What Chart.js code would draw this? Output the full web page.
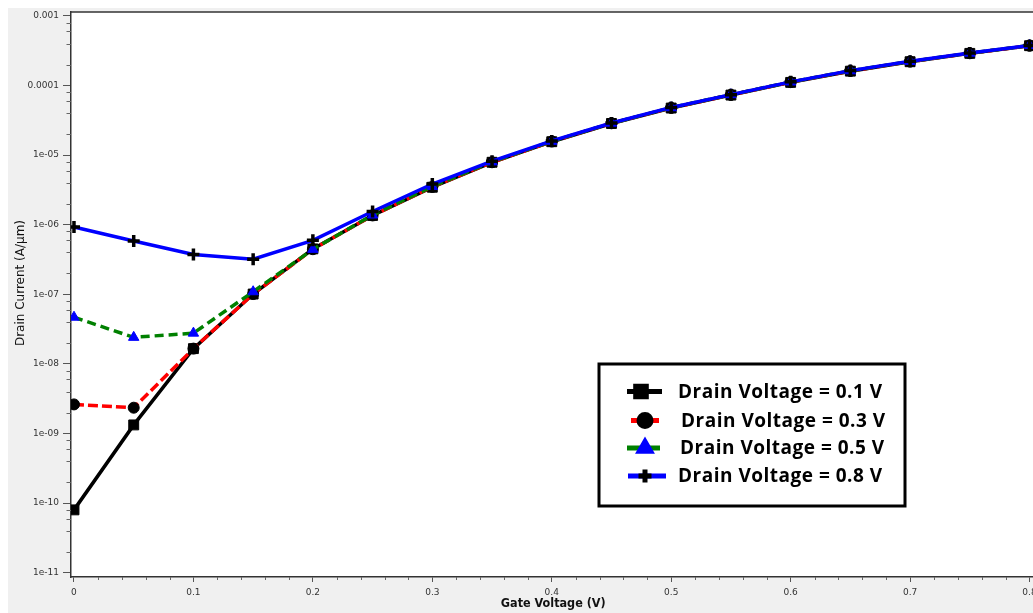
<!DOCTYPE html>
<html>
<head>
<meta charset="utf-8">
<title>Drain Current vs Gate Voltage</title>
<script src="https://cdn.jsdelivr.net/npm/chart.js"></script>
<style>
    html, body { margin: 0; padding: 0; background: #fff; overflow: hidden; }
    #wrap { width: 1033px; height: 613px; overflow: hidden; position: relative; }
    #ivChart { position: absolute; left: 0; top: 0; }
</style>
</head>
<body>
<div id="wrap"><canvas id="ivChart" width="1045" height="613"></canvas></div>
<script>
const gateVoltage = [0, 0.05, 0.1, 0.15, 0.2, 0.25, 0.3, 0.35, 0.4, 0.45, 0.5, 0.55, 0.6, 0.65, 0.7, 0.75, 0.8];

const vd01 = [8.0e-11, 1.33e-9, 1.66e-8, 1.01e-7, 4.5e-7, 1.36e-6, 3.46e-6, 7.9e-6, 1.56e-5, 2.85e-5, 4.75e-5, 7.3e-5, 1.11e-4, 1.61e-4, 2.2e-4, 2.9e-4, 3.74e-4];
const vd03 = [2.62e-9, 2.35e-9, 1.66e-8, 1.01e-7, 4.45e-7, 1.36e-6, 3.5e-6, 7.9e-6, 1.57e-5, 2.87e-5, 4.78e-5, 7.35e-5, 1.12e-4, 1.62e-4, 2.21e-4, 2.91e-4, 3.75e-4];
const vd05 = [4.69e-8, 2.41e-8, 2.77e-8, 1.09e-7, 4.43e-7, 1.38e-6, 3.55e-6, 8.0e-6, 1.58e-5, 2.88e-5, 4.8e-5, 7.4e-5, 1.125e-4, 1.63e-4, 2.22e-4, 2.92e-4, 3.76e-4];
const vd08 = [9.27e-7, 5.85e-7, 3.73e-7, 3.19e-7, 5.97e-7, 1.55e-6, 3.85e-6, 8.2e-6, 1.6e-5, 2.9e-5, 4.85e-5, 7.4e-5, 1.13e-4, 1.64e-4, 2.23e-4, 2.93e-4, 3.77e-4];

const seriesLabels = ["Drain Voltage = 0.1 V", "Drain Voltage = 0.3 V", "Drain Voltage = 0.5 V", "Drain Voltage = 0.8 V"];

const xTicks = [0, 0.1, 0.2, 0.3, 0.4, 0.5, 0.6, 0.7, 0.8];
const xTickLabels = ["0", "0.1", "0.2", "0.3", "0.4", "0.5", "0.6", "0.7", "0.8"];
const yTicks = [1e-11, 1e-10, 1e-9, 1e-8, 1e-7, 1e-6, 1e-5, 1e-4, 1e-3];
const yTickLabels = ["1e-11", "1e-10", "1e-09", "1e-08", "1e-07", "1e-06", "1e-05", "0.0001", "0.001"];

const xTitle = "Gate Voltage (V)";
const yTitle = "Drain Current (A/\u03bcm)";

function points(ys) {
    return gateVoltage.map((x, i) => ({ x: x, y: ys[i] }));
}

// grey panel, white plot, frame, minor ticks, y title, legend
const framePlugin = {
    id: "frame",
    beforeDraw(chart) {
        const { ctx, chartArea } = chart;
        ctx.save();
        ctx.fillStyle = "#f0f0f0";
        ctx.fillRect(8, 8, chart.width - 8, chart.height - 8);
        ctx.fillStyle = "#ffffff";
        ctx.fillRect(chartArea.left, chartArea.top, chartArea.right - chartArea.left, chartArea.bottom - chartArea.top);
        ctx.restore();
    },
    afterDraw(chart) {
        const { ctx, chartArea } = chart;
        const xs = chart.scales.x;
        const ys = chart.scales.y;
        ctx.save();
        // top border
        ctx.strokeStyle = "#333";
        ctx.lineWidth = 1.5;
        ctx.beginPath();
        ctx.moveTo(chartArea.left, chartArea.top);
        ctx.lineTo(chartArea.right, chartArea.top);
        ctx.stroke();

        // minor ticks
        ctx.strokeStyle = "#666";
        ctx.lineWidth = 1;
        ctx.beginPath();
        for (let d = -12; d <= -3; d++) {
            [2, 4, 6, 8].forEach(k => {
                const v = k * Math.pow(10, d);
                if (v < ys.min || v > ys.max) return;
                const py = Math.round(ys.getPixelForValue(v)) + 0.5;
                ctx.moveTo(chartArea.left - 4.5, py);
                ctx.lineTo(chartArea.left, py);
            });
        }
        for (let i = 0; i <= 40; i++) {
            if (i % 5 === 0) continue;
            const v = i * 0.02;
            if (v > xs.max) continue;
            const px = Math.round(xs.getPixelForValue(v)) + 0.5;
            ctx.moveTo(px, chartArea.bottom);
            ctx.lineTo(px, chartArea.bottom + 3);
        }
        ctx.stroke();

        // y title
        ctx.fillStyle = "#111";
        ctx.font = "12px 'DejaVu Sans'";
        ctx.textAlign = "center";
        ctx.textBaseline = "middle";
        ctx.translate(21, 283);
        ctx.rotate(-Math.PI / 2);
        ctx.fillText(yTitle, 0, 0);
        ctx.restore();

        // legend
        ctx.save();
        const bx = 599, by = 364, bw = 306, bh = 142;
        ctx.fillStyle = "#fff";
        ctx.fillRect(bx, by, bw, bh);
        ctx.strokeStyle = "#000";
        ctx.lineWidth = 3;
        ctx.strokeRect(bx, by, bw, bh);
        const rowY = [391.5, 420.5, 448, 476];
        const lineX = [[627, 662], [631, 659], [627, 660], [628, 666]];
        const markX = [641, 645, 645, 645];
        const textX = [678, 681, 680, 678];
        chart.data.datasets.forEach((ds, i) => {
            ctx.strokeStyle = ds.borderColor;
            ctx.lineWidth = 5;
            ctx.setLineDash([]);
            ctx.beginPath();
            ctx.moveTo(lineX[i][0], rowY[i]);
            ctx.lineTo(lineX[i][1], rowY[i]);
            ctx.stroke();
            ctx.fillStyle = ds.pointBackgroundColor;
            ctx.strokeStyle = ds.pointBorderColor;
            Chart.helpers.drawPoint(ctx, {
                pointStyle: ds.pointStyle,
                radius: ds.pointRadius + 0.5,
                rotation: 0,
                borderWidth: ds.pointBorderWidth
            }, markX[i], rowY[i]);
            ctx.fillStyle = "#000";
            ctx.font = "bold 19px 'Open Sans'";
            if ("letterSpacing" in ctx) ctx.letterSpacing = "0.5px";
            ctx.textAlign = "left";
            ctx.textBaseline = "middle";
            ctx.fillText(ds.label, textX[i], rowY[i] + 1);
            if ("letterSpacing" in ctx) ctx.letterSpacing = "0px";
        });
        ctx.restore();
    }
};

const ctx = document.getElementById("ivChart");
new Chart(ctx, {
    type: "line",
    data: {
        datasets: [
            {
                label: seriesLabels[0],
                data: points(vd01),
                borderColor: "#000000",
                borderWidth: 3.5,
                pointStyle: "rect",
                pointRadius: 7,
                pointBackgroundColor: "#000000",
                pointBorderColor: "#000000",
                pointBorderWidth: 1,
                order: 4,
            },
            {
                label: seriesLabels[1],
                data: points(vd03),
                borderColor: "#ff0000",
                borderWidth: 3.5,
                borderDash: [10, 4],
                pointStyle: "circle",
                pointRadius: 5.5,
                pointBackgroundColor: "#000000",
                pointBorderColor: "#000000",
                pointBorderWidth: 1,
                order: 3,
            },
            {
                label: seriesLabels[2],
                data: points(vd05),
                borderColor: "#008000",
                borderWidth: 3.5,
                borderDash: [9, 5],
                pointStyle: "triangle",
                pointRadius: 6,
                pointBackgroundColor: "#0000ff",
                pointBorderColor: "#0000ff",
                pointBorderWidth: 1,
                order: 2,
            },
            {
                label: seriesLabels[3],
                data: points(vd08),
                borderColor: "#0000ff",
                borderWidth: 3.5,
                pointStyle: "cross",
                pointRadius: 6,
                pointBackgroundColor: "#000000",
                pointBorderColor: "#000000",
                pointBorderWidth: 3.5,
                order: 1,
            },
        ],
    },
    options: {
        responsive: false,
        animation: false,
        layout: {
            padding: { left: 0, top: 12, right: 4, bottom: 0 },
        },
        plugins: {
            legend: { display: false },
            tooltip: { enabled: false },
            title: { display: false },
        },
        elements: {
            line: { tension: 0 },
        },
        scales: {
            x: {
                type: "linear",
                min: -0.0025,
                max: 0.805,
                afterBuildTicks(scale) {
                    scale.ticks = xTicks.map(v => ({ value: v }));
                },
                afterFit(scale) {
                    scale.height = 36;
                },
                ticks: {
                    callback: (v) => xTickLabels[xTicks.indexOf(v)],
                    font: { family: "DejaVu Sans", size: 9 },
                    color: "#333",
                    padding: 5,
                    maxRotation: 0,
                    autoSkip: false,
                },
                grid: {
                    drawOnChartArea: false,
                    drawTicks: true,
                    tickLength: 5,
                    color: "#555",
                },
                border: { display: true, color: "#333", width: 1.5 },
                title: {
                    display: true,
                    text: xTitle,
                    font: { family: "DejaVu Sans Condensed", size: 12.5, weight: "bold" },
                    color: "#111",
                    padding: { top: 0, bottom: 1.5 },
                },
            },
            y: {
                type: "logarithmic",
                min: 8.68e-12,
                max: 1.14e-3,
                afterBuildTicks(scale) {
                    scale.ticks = yTicks.map(v => ({ value: v, major: true }));
                },
                afterFit(scale) {
                    scale.width = 71;
                },
                ticks: {
                    callback: (v) => yTickLabels[yTicks.indexOf(v)],
                    font: { family: "DejaVu Sans", size: 9 },
                    color: "#333",
                    padding: 4,
                    autoSkip: false,
                },
                grid: {
                    drawOnChartArea: false,
                    drawTicks: true,
                    tickLength: 8,
                    color: "#555",
                },
                border: { display: true, color: "#333", width: 1.5 },
            },
        },
    },
    plugins: [framePlugin],
});
</script>
</body>
</html>
